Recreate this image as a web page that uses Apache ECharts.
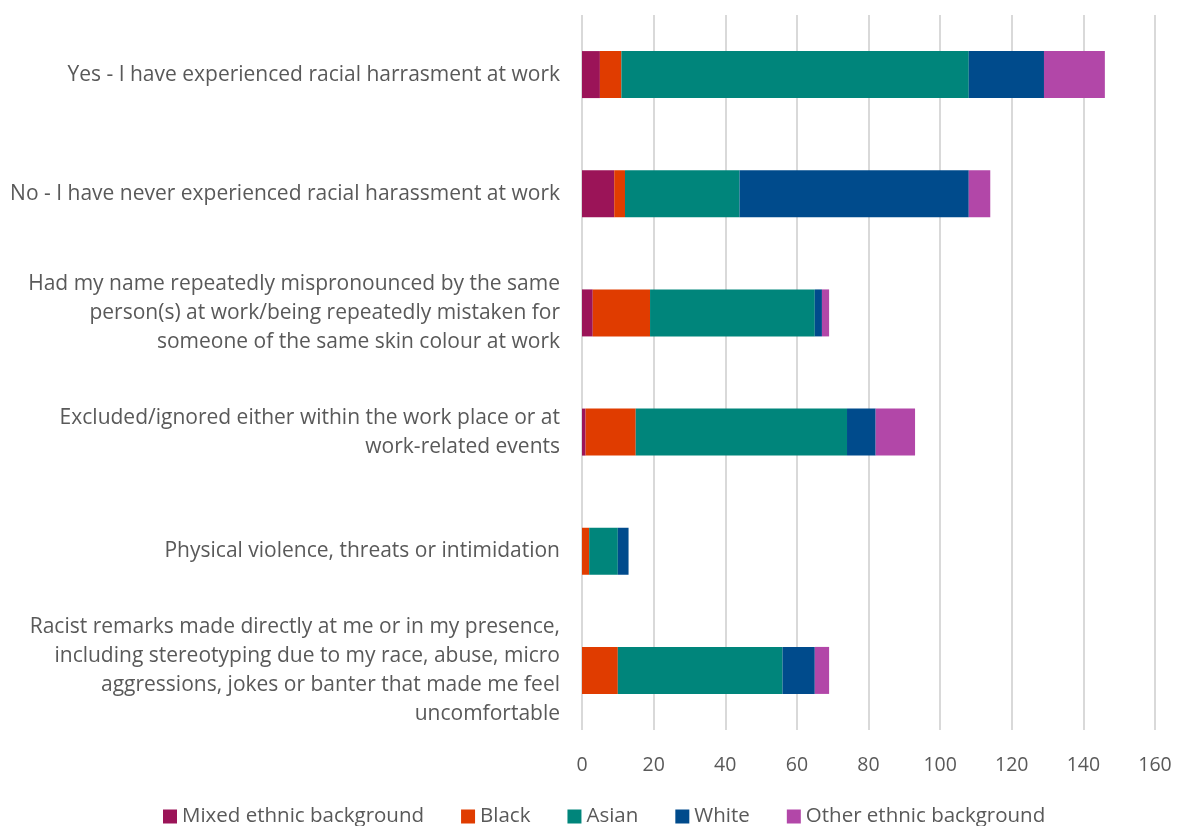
<!DOCTYPE html>
<html><head><meta charset="utf-8">
<script src="https://cdn.jsdelivr.net/npm/echarts@6/dist/echarts.min.js"></script>
<style>html,body{margin:0;padding:0;background:#fff}#c{width:1177px;height:826px}</style>
</head><body><div id="c"></div>
<script>
const categories = [
  "Yes - I have experienced racial harrasment at work",
  "No - I have never experienced racial harassment at work",
  "Had my name repeatedly mispronounced by the same\nperson(s) at work/being repeatedly mistaken for\nsomeone of the same skin colour at work",
  "Excluded/ignored either within the work place or at\nwork-related events",
  "Physical violence, threats or intimidation",
  "Racist remarks made directly at me or in my presence,\nincluding stereotyping due to my race, abuse, micro\naggressions, jokes or banter that made me feel\nuncomfortable"
];
const seriesNames = ["Mixed ethnic background", "Black", "Asian", "White", "Other ethnic background"];
const mixed = [5, 9, 3, 1, 0, 0];
const black = [6, 3, 16, 14, 2, 10];
const asian = [97, 32, 46, 59, 8, 46];
const white = [21, 64, 2, 8, 3, 9];
const other = [17, 6, 2, 11, 0, 4];
const colors = ["#9B1458", "#E03C00", "#00857B", "#004B8C", "#B247A8"];
const values = [mixed, black, asian, white, other];

const chart = echarts.init(document.getElementById('c'));
const font = "'Open Sans', sans-serif";
chart.setOption({
  animation: false,
  textStyle: {fontFamily: font},
  grid: {left: 582, right: 22, top: 15, bottom: 96},
  legend: {
    top: 801, left: 158, itemWidth: 14, itemHeight: 14, itemGap: 37,
    icon: 'rect',
    textStyle: {fontSize: 20.5, color: '#595959', fontFamily: font},
    data: seriesNames
  },
  xAxis: {
    type: 'value', min: 0, max: 160, interval: 20,
    axisLine: {show: false}, axisTick: {show: false},
    splitLine: {lineStyle: {color: '#D9D9D9', width: 2}},
    axisLabel: {fontSize: 19.5, color: '#595959', margin: 25, fontFamily: font}
  },
  yAxis: {
    type: 'category', inverse: true, data: categories,
    axisLine: {show: false}, axisTick: {show: false},
    axisLabel: {fontSize: 21, color: '#595959', margin: 22, lineHeight: 29, align: 'right', fontFamily: font}
  },
  series: seriesNames.map((n, i) => ({
    name: n, type: 'bar', stack: 'total', barWidth: 47,
    itemStyle: {color: colors[i]},
    data: values[i]
  }))
});
</script></body></html>
